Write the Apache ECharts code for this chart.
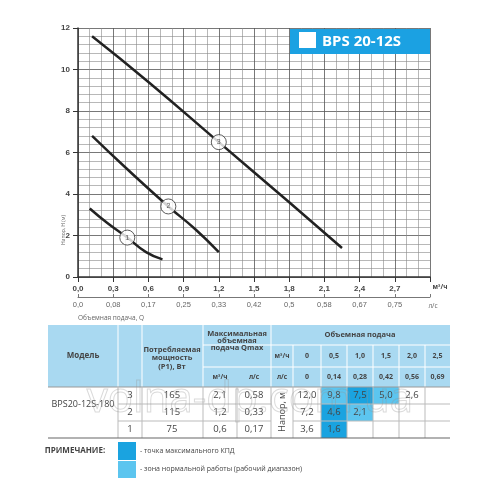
<!DOCTYPE html>
<html><head><meta charset="utf-8">
<script src="https://cdn.jsdelivr.net/npm/echarts@6/dist/echarts.min.js"></script>
<style>html,body{margin:0;background:#fff}#container{width:500px;height:500px}</style>
</head><body><div id="container"></div>
<script>
// Данные кривых (Q м3/ч, H м)
var curve3 = [[0.12, 11.6], [0.6, 9.4], [1.2, 6.5], [1.8, 3.6], [2.25, 1.4]];
var curve2 = [[0.12, 6.8], [0.4, 5.3], [0.77, 3.4], [1.0, 2.3], [1.2, 1.2]];
var curve1 = [[0.1, 3.3], [0.25, 2.6], [0.42, 1.9], [0.58, 1.2], [0.72, 0.85]];
var markers = [[0.42, 1.9], [0.77, 3.4], [1.2, 6.5]];
var markerNames = ['1', '2', '3'];
var lsLabels = ['0,0', '0,08', '0,17', '0,25', '0,33', '0,42', '0,5', '0,58', '0,67', '0,75'];

// Таблица
var headFlow = ['0', '0,5', '1,0', '1,5', '2,0', '2,5'];
var headLs = ['0', '0,14', '0,28', '0,42', '0,56', '0,69'];
var rowsSpeed = ['3', '2', '1'];
var rowsPower = ['165', '115', '75'];
var rowsQm3 = ['2,1', '1,2', '0,6'];
var rowsQls = ['0,58', '0,33', '0,17'];
var rowsHead = [['12,0', '9,8', '7,5', '5,0', '2,6', ''], ['7,2', '4,6', '2,1', '', '', ''], ['3,6', '1,6', '', '', '', '']];
// 0 - нет, 1 - рабочий диапазон, 2 - максимальный КПД
var rowsZone = [[0, 1, 2, 1, 0, 0], [0, 2, 1, 0, 0, 0], [0, 2, 0, 0, 0, 0]];

var DARK = '#1aa3e0', LIGHT = '#5cc5ef', HEAD = '#a9d9f1';
var colX = [48, 118, 142, 203, 237, 271, 293, 321, 347, 373, 399, 425, 450];
var rowY = [325, 345, 367, 387, 404, 421, 438];
var g = [];
function rect(x, y, w, h, fill) { g.push({ type: 'rect', z: 100, shape: { x: x, y: y, width: w, height: h }, style: { fill: fill } }); }
function line(x1, y1, x2, y2, c, w) { g.push({ type: 'line', z: 101, shape: { x1: x1, y1: y1, x2: x2, y2: y2 }, style: { stroke: c || '#fff', lineWidth: w || 1 } }); }
function txt(x, y, s, o) {
    o = o || {};
    g.push({ type: 'text', z: 102, x: x, y: y, rotation: o.rot || 0, style: { text: s, fill: o.color || '#444', font: (o.bold ? 'bold ' : '') + (o.size || 9) + 'px "Open Sans"', align: o.align || 'center', verticalAlign: 'middle' } });
}

// заголовок таблицы
rect(colX[0], rowY[0], colX[12] - colX[0], rowY[3] - rowY[0], HEAD);
txt(83, 356, 'Модель', { bold: true, size: 8 });
txt(172, 350, 'Потребляемая', { bold: true, size: 7.5 });
txt(172, 358, 'мощность', { bold: true, size: 7.5 });
txt(172, 367, '(P1), Вт', { bold: true, size: 7.5 });
txt(237, 334, 'Максимальная', { bold: true, size: 7.5 });
txt(237, 341, 'объемная', { bold: true, size: 7.5 });
txt(237, 348, 'подача Qmax', { bold: true, size: 7.5 });
txt(220, 377, 'м³/ч', { bold: true, size: 6.5 });
txt(254, 377, 'л/с', { bold: true, size: 6.5 });
txt(282, 356, 'м³/ч', { bold: true, size: 6.5 });
txt(282, 377, 'л/с', { bold: true, size: 6.5 });
txt(360, 335, 'Объемная подача', { bold: true, size: 7.5 });
for (var i = 0; i < 6; i++) {
    var cx = (colX[6 + i] + colX[7 + i]) / 2;
    txt(cx, 356, headFlow[i], { bold: true, size: 7 });
    txt(cx, 377, headLs[i], { bold: true, size: 7 });
}
[1, 2, 3, 5].forEach(function (c) { line(colX[c], rowY[0], colX[c], rowY[3]); });
for (var c = 6; c < 12; c++) line(colX[c], rowY[1], colX[c], rowY[3]);
line(colX[3], rowY[1], colX[5], rowY[1]);
line(colX[5], rowY[1], colX[12], rowY[1]);
line(colX[3], rowY[2], colX[12], rowY[2]);

// строки данных
for (var r = 0; r < 3; r++) {
    var y0 = rowY[3 + r], y1 = rowY[4 + r], cy = (y0 + y1) / 2;
    for (var k = 0; k < 6; k++) {
        if (rowsZone[r][k]) rect(colX[6 + k], y0, colX[7 + k] - colX[6 + k], y1 - y0, rowsZone[r][k] === 2 ? DARK : LIGHT);
        txt((colX[6 + k] + colX[7 + k]) / 2, cy, rowsHead[r][k], { size: 9.5 });
    }
    txt(130, cy, rowsSpeed[r], { size: 9.5 });
    txt(172, cy, rowsPower[r], { size: 9.5 });
    txt(220, cy, rowsQm3[r], { size: 9.5 });
    txt(254, cy, rowsQls[r], { size: 9.5 });
    if (r < 2) line(colX[1], y1, colX[5], y1, '#bbb');
    if (r < 2) line(colX[6], y1, colX[12], y1, '#bbb');
}
line(colX[0], rowY[3], colX[12], rowY[3], '#999');
[1, 2, 3, 4, 5, 6, 7, 8, 9, 10, 11].forEach(function (c) { line(colX[c], rowY[3], colX[c], rowY[6], '#bbb'); });
line(colX[0], rowY[6], colX[12], rowY[6], '#666', 1.2);
txt(83, 404, 'BPS20-12S-180', { size: 9 });
txt(282, 412, 'Напор, м', { size: 9, rot: Math.PI / 2 });

// примечание
txt(75, 451, 'ПРИМЕЧАНИЕ:', { bold: true, size: 8, align: 'center' });
rect(118, 442, 18, 18, DARK);
rect(118, 461, 18, 17, LIGHT);
txt(140, 451, '- точка максимального КПД', { size: 7, align: 'left' });
txt(140, 469, '- зона нормальной работы (рабочий диапазон)', { size: 7, align: 'left' });

// плашка BPS 20-12S
rect(290, 29, 140, 25, '#1ba1e2');
rect(299, 32, 17, 16, '#fff');
txt(322, 42, 'BPS 20-12S', { bold: true, size: 15, color: '#fff', align: 'left' });

// подписи осей
txt(64, 230, 'Напор, H (м)', { size: 5, rot: Math.PI / 2, color: '#666' });
txt(78, 318, 'Объемная подача, Q', { size: 6.5, color: '#666', align: 'left' });
txt(440, 287, 'м³/ч', { size: 6.5, color: '#444', bold: true });
txt(433, 306, 'л/с', { size: 6.5, color: '#666' });
txt(250, 400, 'volna-dp.com.ua', { size: 42, color: 'rgba(255,255,255,0)' });
g[g.length - 1].style.stroke = 'rgba(150,150,150,0.35)';
g[g.length - 1].style.lineWidth = 1;

var dom = document.getElementById('container');
var myChart = echarts.init(dom, null, { renderer: 'canvas' });

var curveStyle = { color: '#222', width: 2.5 };
var option = {
    animation: false,
    grid: { left: 78, right: 70, top: 28, bottom: 223 },
    xAxis: [{
        type: 'value', min: 0, max: 3, interval: 0.3,
        axisLine: { lineStyle: { color: '#333', width: 1.5 } },
        axisTick: { show: true, lineStyle: { color: '#333' } },
        axisLabel: { fontSize: 8, fontWeight: 'bold', color: '#444', formatter: function (v) { return Math.abs(v - 3) < 1e-6 ? '' : v.toFixed(1).replace('.', ','); } },
        splitLine: { lineStyle: { color: '#555', width: 0.8 } },
        minorTick: { show: true, splitNumber: 3, length: 0 },
        minorSplitLine: { show: true, lineStyle: { color: '#888', width: 0.6 } }
    }, {
        type: 'value', min: 0, max: 3, interval: 0.3, position: 'bottom', offset: 20,
        axisLine: { show: true, lineStyle: { color: '#777' } },
        axisTick: { show: true, inside: true, length: 3, lineStyle: { color: '#777' } },
        axisLabel: { fontSize: 7.5, color: '#666', margin: 4, formatter: function (v) { var i = Math.round(v / 0.3); return lsLabels[i] || ''; } },
        splitLine: { show: false }
    }],
    yAxis: {
        type: 'value', min: 0, max: 12, interval: 2,
        axisLine: { show: true, lineStyle: { color: '#333', width: 1.5 } },
        axisTick: { show: true },
        axisLabel: { fontSize: 8, fontWeight: 'bold', color: '#444' },
        splitLine: { lineStyle: { color: '#555', width: 0.8 } },
        minorTick: { show: true, splitNumber: 5, length: 0 },
        minorSplitLine: { show: true, lineStyle: { color: '#888', width: 0.6 } }
    },
    series: [
        { type: 'line', data: curve3, smooth: true, symbol: 'none', lineStyle: curveStyle },
        { type: 'line', data: curve2, smooth: true, symbol: 'none', lineStyle: curveStyle },
        { type: 'line', data: curve1, smooth: true, symbol: 'none', lineStyle: curveStyle },
        {
            type: 'scatter', data: markers, symbolSize: 15, z: 5,
            itemStyle: { color: '#fff', borderColor: '#333', borderWidth: 1 },
            label: { show: true, position: 'inside', rotate: 0, color: '#333', fontSize: 7, formatter: function (p) { return markerNames[p.dataIndex]; } }
        }
    ],
    graphic: g
};
myChart.setOption(option);
</script></body></html>
